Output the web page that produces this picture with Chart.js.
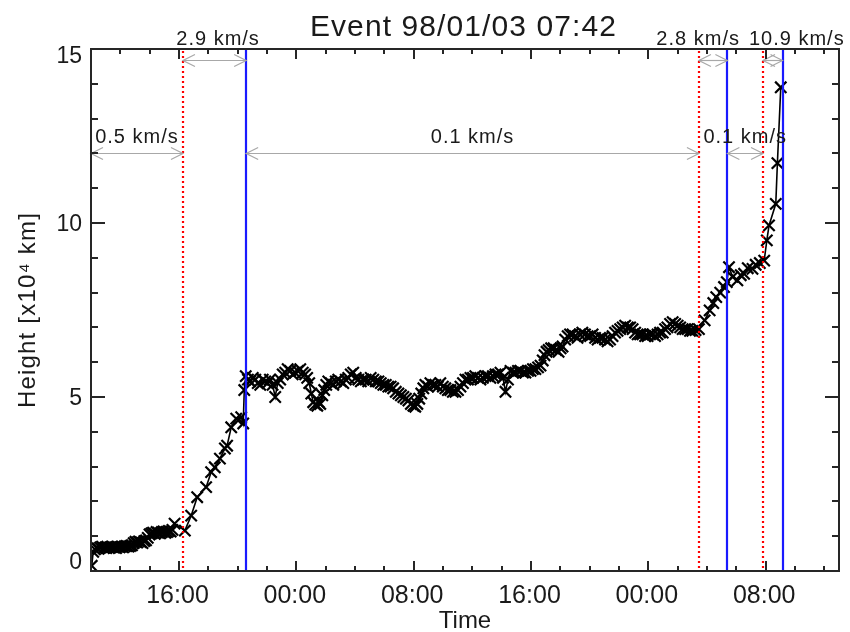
<!DOCTYPE html>
<html>
<head>
<meta charset="utf-8">
<script src="https://cdn.jsdelivr.net/npm/chart.js@4.4.1/dist/chart.umd.min.js"></script>
<style>
html,body{margin:0;padding:0;background:#fff;}
canvas{display:block;}
</style>
</head>
<body>
<canvas id="c" width="850" height="632"></canvas>
<script>
// ---------------- DATA ----------------
const chartTitle = 'Event 98/01/03 07:42';
const xTitle = 'Time';
const yTitle = 'Height [x10\u2074 km]';

// time in hours since 1998-01-01 00:00 UT
const times = [
  10.05,10.15,10.27,10.39,10.51,10.63,10.75,10.87,10.99,11.11,11.23,11.35,
  11.47,11.59,11.71,11.83,11.95,12.07,12.19,12.31,12.43,12.55,12.67,12.79,
  12.91,13.03,13.15,13.27,13.39,13.51,13.63,13.75,13.87,13.99,14.11,14.23,
  14.35,14.47,14.59,14.71,14.83,14.95,15.07,15.19,15.31,15.43,15.55,15.70,
  16.4,16.83,17.24,17.85,18.19,18.44,18.79,19.13,19.28,19.56,19.9,20.24,20.38,
  20.45,20.55,20.70,20.85,21.03,21.20,21.37,21.54,21.71,21.88,22.04,22.20,
  22.38,22.56,22.73,22.90,23.07,23.24,23.41,23.58,23.75,23.92,24.10,24.27,
  24.44,24.60,24.74,24.88,25.02,25.15,25.29,25.43,25.53,25.63,25.77,25.90,
  26.04,26.18,26.35,26.52,26.69,26.86,27.03,27.20,27.37,27.54,27.71,27.88,
  28.05,28.23,28.40,28.57,28.73,28.90,29.07,29.25,29.42,29.60,29.76,29.93,
  30.10,30.27,30.43,30.60,30.78,30.96,31.13,31.30,31.47,31.64,31.81,31.98,
  32.11,32.25,32.38,32.52,32.66,32.80,32.97,33.14,33.31,33.48,33.65,33.82,
  33.99,34.16,34.33,34.50,34.67,34.85,35.02,35.19,35.36,35.53,35.70,35.87,
  36.04,36.20,36.38,36.55,36.72,36.90,37.06,37.23,37.40,37.58,37.75,37.92,
  38.09,38.26,38.43,38.60,38.77,38.94,39.11,39.28,39.45,39.62,39.80,39.97,
  40.13,40.30,40.48,40.65,40.80,40.92,41.06,41.20,41.37,41.54,41.71,41.88,
  42.02,42.15,42.33,42.50,42.66,42.83,43.00,43.17,43.33,43.50,43.68,43.86,
  44.03,44.20,44.37,44.54,44.71,44.88,45.05,45.22,45.39,45.56,45.73,45.90,
  46.08,46.25,46.42,46.60,46.76,46.93,47.10,47.27,47.44,47.60,47.78,47.95,
  48.12,48.30,48.46,48.63,48.80,48.98,49.14,49.30,49.48,49.66,49.83,50.00,
  50.17,50.34,50.51,50.68,50.84,51.00,51.22,51.45,
  51.84,52.18,52.43,52.63,52.9,53.16,53.35,53.5,53.75,54.07,54.3,54.53,
  54.78,55.1,55.32,55.6,55.9,56.08,56.23,56.69,56.8,57.03
];
// height in 10^4 km
const heights = [
  0.15,0.55,0.62,0.66,0.64,0.68,0.70,0.66,0.68,0.70,0.66,0.68,
  0.70,0.67,0.66,0.70,0.68,0.70,0.68,0.71,0.72,0.70,0.72,0.74,
  0.80,0.84,0.82,0.85,0.83,0.80,0.86,0.88,0.95,1.05,1.08,1.10,
  1.07,1.12,1.10,1.08,1.12,1.14,1.10,1.12,1.15,1.13,1.18,1.36,
  1.16,1.59,2.12,2.41,2.84,2.98,3.23,3.52,3.60,4.13,4.38,4.42,4.24,
  5.20,5.60,5.50,5.45,5.55,5.50,5.40,5.35,5.50,5.45,5.40,5.50,
  5.35,5.00,5.40,5.50,5.65,5.70,5.80,5.75,5.65,5.70,5.75,5.80,
  5.70,5.65,5.55,5.40,5.10,4.85,4.78,4.75,4.85,4.80,5.05,5.20,
  5.35,5.45,5.40,5.35,5.45,5.50,5.45,5.40,5.50,5.55,5.65,5.70,
  5.55,5.50,5.45,5.50,5.50,5.45,5.55,5.50,5.45,5.45,5.40,5.35,
  5.35,5.30,5.30,5.25,5.15,5.10,5.05,5.00,4.95,4.90,4.80,4.75,
  4.72,4.80,4.95,5.10,5.25,5.35,5.30,5.40,5.35,5.35,5.30,5.40,
  5.30,5.25,5.20,5.20,5.15,5.15,5.20,5.30,5.40,5.50,5.50,5.55,
  5.55,5.60,5.55,5.50,5.55,5.60,5.60,5.55,5.60,5.65,5.65,5.70,
  5.55,5.15,5.50,5.75,5.70,5.70,5.75,5.75,5.70,5.70,5.75,5.75,
  5.80,5.80,5.85,5.90,6.05,6.20,6.30,6.35,6.40,6.40,6.35,6.30,
  6.40,6.45,6.65,6.75,6.80,6.80,6.75,6.70,6.80,6.85,6.80,6.75,
  6.75,6.80,6.70,6.65,6.70,6.70,6.65,6.60,6.65,6.75,6.85,6.90,
  6.95,7.00,7.05,7.00,7.00,6.95,6.85,6.80,6.80,6.80,6.75,6.75,
  6.80,6.80,6.75,6.80,6.85,6.85,6.95,7.00,7.10,7.15,7.10,7.05,
  7.00,6.95,6.95,6.95,6.90,6.90,6.92,6.95,
  7.20,7.49,7.70,7.87,8.00,8.16,8.30,8.73,8.45,8.35,8.50,8.54,
  8.70,8.68,8.80,8.85,8.92,9.50,9.93,10.55,11.72,13.90
];

// tick values
const xMajorTicks = [16, 24, 32, 40, 48, 56];
const xMinorTicks = [12, 14, 18, 20, 22, 26, 28, 30, 34, 36, 38, 42, 44, 46, 50, 52, 54, 58, 60];
const yMajorTicks = [0, 5, 10, 15];
const yMinorTicks = [1, 2, 3, 4, 6, 7, 8, 9, 11, 12, 13, 14];

// phase boundaries (hours since 1998-01-01 00:00)
const onsetTimes = [16.27, 51.45, 55.82];   // red dotted
const endTimes   = [20.58, 53.39, 57.15];   // blue solid

// speed annotations
const speedLabels = ['0.5 km/s', '2.9 km/s', '0.1 km/s', '2.8 km/s', '0.1 km/s', '10.9 km/s'];
const speedFrom   = [10.0, 16.27, 20.58, 51.45, 53.39, 55.82];
const speedTo     = [16.27, 20.58, 51.45, 53.39, 55.82, 57.15];

// ---------------- LAYOUT / STYLE ----------------
const FONT = '"Liberation Sans", Arial, Helvetica, sans-serif';
const arrowLevel = [12.0, 14.68];             // lower / upper arrow rows (data units)
const labelShift = [0, 3.5, 0, -15, 0, 24];   // px shift of each speed label from arrow centre

const fmtHour = h => String(((h % 24) + 24) % 24).padStart(2, '0') + ':00';

function seg(ctx, x1, y1, x2, y2) {
  ctx.beginPath(); ctx.moveTo(x1, y1); ctx.lineTo(x2, y2); ctx.stroke();
}

const overlay = {
  id: 'overlay',
  afterDatasetsDraw(chart) {
    const { ctx, chartArea: a, scales } = chart;
    const xs = scales.x, ys = scales.y;
    ctx.save();

    // red dotted onset lines
    ctx.strokeStyle = '#ff0000'; ctx.lineWidth = 2.2; ctx.setLineDash([2, 3]);
    onsetTimes.forEach(t => {
      const px = Math.round(xs.getPixelForValue(t));
      seg(ctx, px, a.top + 2, px, a.bottom);
    });
    // blue end lines
    ctx.setLineDash([]); ctx.strokeStyle = '#1a1aff'; ctx.lineWidth = 2.2;
    endTimes.forEach(t => {
      const px = Math.round(xs.getPixelForValue(t));
      seg(ctx, px, a.top, px, a.bottom);
    });

    // speed arrows
    ctx.strokeStyle = '#a8a8a8'; ctx.lineWidth = 1.2;
    const head = 12, half = 6;
    speedLabels.forEach((lab, i) => {
      const x1 = xs.getPixelForValue(speedFrom[i]);
      const x2 = xs.getPixelForValue(speedTo[i]);
      const py = Math.round(ys.getPixelForValue(arrowLevel[i % 2])) + 0.5;
      seg(ctx, x1, py, x2, py);
      ctx.beginPath();
      ctx.moveTo(x1 + head, py - half); ctx.lineTo(x1, py); ctx.lineTo(x1 + head, py + half);
      ctx.moveTo(x2 - head, py - half); ctx.lineTo(x2, py); ctx.lineTo(x2 - head, py + half);
      ctx.stroke();
    });

    // speed labels
    ctx.fillStyle = '#1a1a1a';
    ctx.font = '20px ' + FONT;
    ctx.textAlign = 'center'; ctx.textBaseline = 'alphabetic';
    try { ctx.letterSpacing = '1px'; } catch (e) {}
    speedLabels.forEach((lab, i) => {
      const x1 = xs.getPixelForValue(speedFrom[i]);
      const x2 = xs.getPixelForValue(speedTo[i]);
      const py = ys.getPixelForValue(arrowLevel[i % 2]);
      const off = (i % 2) ? 15 : 10;
      ctx.fillText(lab, (x1 + x2) / 2 + labelShift[i], py - off);
    });

    // axes box
    ctx.strokeStyle = '#262626'; ctx.lineWidth = 2;
    ctx.strokeRect(a.left, a.top, a.right - a.left, a.bottom - a.top);

    // x ticks (bottom and top, inward)
    const xt = (v, len) => {
      const px = Math.round(xs.getPixelForValue(v));
      seg(ctx, px, a.bottom, px, a.bottom - len);
      seg(ctx, px, a.top, px, a.top + len);
    };
    xMajorTicks.forEach(v => xt(v, 10));
    xMinorTicks.forEach(v => xt(v, 5));
    // y ticks (left and right, inward)
    const yt = (v, len) => {
      const py = Math.round(ys.getPixelForValue(v));
      seg(ctx, a.left, py, a.left + len, py);
      seg(ctx, a.right, py, a.right - len, py);
    };
    yMajorTicks.forEach(v => yt(v, 14));
    yMinorTicks.forEach(v => yt(v, 7));

    // tick labels
    try { ctx.letterSpacing = '0px'; } catch (e) {}
    ctx.fillStyle = '#1a1a1a';
    ctx.font = '25px ' + FONT;
    ctx.textAlign = 'center'; ctx.textBaseline = 'alphabetic';
    xMajorTicks.forEach(v => {
      ctx.fillText(fmtHour(v), xs.getPixelForValue(v) - 1.5, a.bottom + 32);
    });
    ctx.font = '23px ' + FONT;
    ctx.textAlign = 'right'; ctx.textBaseline = 'middle';
    yMajorTicks.forEach(v => {
      let py = ys.getPixelForValue(v) + 1.5;
      py = Math.max(a.top + 7.5, Math.min(a.bottom - 8.5, py));
      ctx.fillText(String(v), a.left - 9, py);
    });

    // axis titles
    ctx.textAlign = 'center'; ctx.textBaseline = 'alphabetic';
    ctx.font = '24px ' + FONT;
    ctx.fillText(xTitle, (a.left + a.right) / 2, a.bottom + 57);
    ctx.save();
    ctx.translate(28, (a.top + a.bottom) / 2);
    ctx.rotate(-Math.PI / 2);
    ctx.textBaseline = 'middle';
    try { ctx.letterSpacing = '1.2px'; } catch (e) {}
    ctx.fillText(yTitle, 0, 0);
    ctx.restore();

    // main title
    try { ctx.letterSpacing = '1.1px'; } catch (e) {}
    ctx.font = '30px ' + FONT;
    ctx.textAlign = 'center'; ctx.textBaseline = 'alphabetic';
    ctx.fillText(chartTitle, (a.left + a.right) / 2 - 1.5, 36);
    ctx.restore();
  }
};

const points = times.map((t, i) => ({ x: t, y: heights[i] }));

new Chart(document.getElementById('c'), {
  type: 'line',
  data: {
    datasets: [{
      data: points,
      borderColor: '#000',
      borderWidth: 1.6,
      pointStyle: 'crossRot',
      pointRadius: 8,
      pointHoverRadius: 8,
      pointBorderWidth: 2.2,
      pointBorderColor: '#000',
      pointBackgroundColor: '#000',
      tension: 0,
      fill: false
    }]
  },
  options: {
    responsive: false,
    animation: false,
    devicePixelRatio: 1,
    layout: { padding: { top: 49, right: 11, bottom: 0, left: 0 } },
    plugins: { legend: { display: false }, tooltip: { enabled: false }, title: { display: false } },
    events: [],
    scales: {
      x: {
        type: 'linear', min: 10, max: 61,
        grid: { display: false }, border: { display: false },
        ticks: { display: false },
        afterFit: s => { s.height = 61; }
      },
      y: {
        type: 'linear', min: 0, max: 15,
        grid: { display: false }, border: { display: false },
        ticks: { display: false },
        afterFit: s => { s.width = 91; }
      }
    }
  },
  plugins: [overlay]
});
</script>
</body>
</html>
